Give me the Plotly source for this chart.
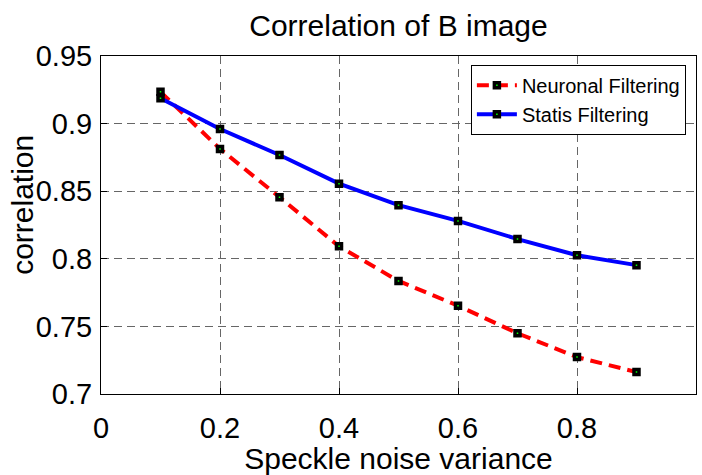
import plotly.graph_objects as go

noise_variance = [0.1, 0.2, 0.3, 0.4, 0.5, 0.6, 0.7, 0.8, 0.9]
neuronal_filtering = [0.9235, 0.8813, 0.8456, 0.8092, 0.7836, 0.7653, 0.7449, 0.7273, 0.7162]
statis_filtering = [0.9188, 0.8960, 0.8768, 0.8556, 0.8397, 0.8280, 0.8146, 0.8026, 0.7953]
x_ticks = [0, 0.2, 0.4, 0.6, 0.8, 1]
x_tick_text = ["0", "0.2", "0.4", "0.6", "0.8", "1"]
y_ticks = [0.7, 0.75, 0.8, 0.85, 0.9, 0.95]
y_tick_text = ["0.7", "0.75", "0.8", "0.85", "0.9", "0.95"]

FONT = "Liberation Sans, Arial, Helvetica, sans-serif"

marker = dict(symbol="square", size=5, color="#00ff00",
              line=dict(color="black", width=3.5))

fig = go.Figure()
fig.add_trace(go.Scatter(
    x=noise_variance, y=neuronal_filtering, name="Neuronal Filtering",
    mode="lines+markers",
    line=dict(color="#ff0000", width=4, dash="12px,7px"),
    marker=marker,
))
fig.add_trace(go.Scatter(
    x=noise_variance, y=statis_filtering, name="Statis Filtering",
    mode="lines+markers",
    line=dict(color="#0000ff", width=4),
    marker=marker,
))

axis_common = dict(
    showline=True, linecolor="black", linewidth=1, mirror=True,
    ticks="inside", ticklen=6, tickcolor="black",
    showgrid=True, gridcolor="#666666", gridwidth=1, griddash="8px,5px",
    zeroline=False, tickfont=dict(family=FONT, size=29, color="black"),
)

plot_left, plot_width = 101, 596

fig.update_layout(
    width=702, height=475,
    margin=dict(l=101, r=5, t=56, b=66),
    paper_bgcolor="white", plot_bgcolor="white",
    font=dict(family=FONT, color="black"),
    title=dict(text="Correlation of B image", x=0.5, xref="paper",
               xanchor="center", y=1 - 25 / 475, yref="container",
               yanchor="middle", font=dict(family=FONT, size=30, color="black")),
    xaxis=dict(range=[0, 1], tickvals=x_ticks, ticktext=x_tick_text,
               title=dict(text="Speckle noise variance", standoff=5,
                          font=dict(family=FONT, size=30, color="black")),
               ticklabelstandoff=8,
               **axis_common),
    yaxis=dict(range=[0.7, 0.95], tickvals=y_ticks, ticktext=y_tick_text,
               ticklabelstandoff=2,
               **axis_common),
    legend=dict(x=0.983, y=0.974, xanchor="right", yanchor="top",
                bgcolor="white", bordercolor="black", borderwidth=1,
                font=dict(family=FONT, size=20, color="black"),
                itemwidth=40, tracegroupgap=0),
    showlegend=True,
    annotations=[dict(
        text="correlation", textangle=-90, showarrow=False,
        xref="paper", yref="paper",
        x=-(plot_left - 23) / plot_width, y=0.56,
        xanchor="center", yanchor="middle",
        font=dict(family=FONT, size=30, color="black"),
    )],
)

fig.write_html("out.html")
